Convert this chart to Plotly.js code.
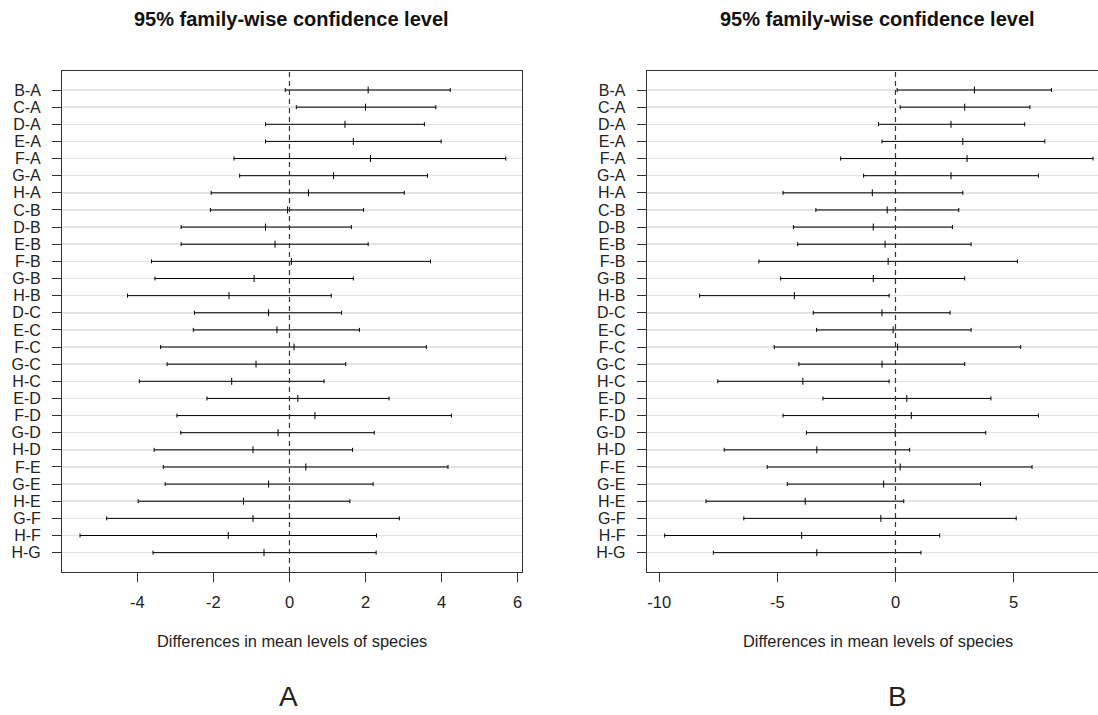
<!DOCTYPE html>
<html>
<head>
<meta charset="utf-8">
<script src="https://cdn.plot.ly/plotly-3.0.1.min.js"></script>
<style>
html, body { margin: 0; padding: 0; overflow: hidden; background: #fff; }
#chart { width: 1130px; height: 715px; }
</style>
</head>
<body>
<div id="chart"></div>
<script>
// ---- Data ----
const comparisons = ["B-A","C-A","D-A","E-A","F-A","G-A","H-A","C-B","D-B","E-B","F-B","G-B","H-B",
  "D-C","E-C","F-C","G-C","H-C","E-D","F-D","G-D","H-D","F-E","G-E","H-E","G-F","H-F","H-G"];

// Panel A
const diffA = [2.07, 2.00, 1.46, 1.68, 2.13, 1.16, 0.50, -0.05, -0.63, -0.38, 0.05, -0.93, -1.59,
  -0.55, -0.33, 0.12, -0.88, -1.52, 0.22, 0.67, -0.30, -0.96, 0.43, -0.55, -1.21, -0.96, -1.61, -0.67];
const lwrA = [-0.11, 0.18, -0.63, -0.63, -1.46, -1.31, -2.06, -2.08, -2.85, -2.85, -3.63, -3.54, -4.26,
  -2.50, -2.53, -3.39, -3.22, -3.95, -2.17, -2.96, -2.86, -3.56, -3.32, -3.27, -3.98, -4.81, -5.51, -3.59];
const uprA = [4.23, 3.85, 3.55, 3.99, 5.69, 3.63, 3.02, 1.95, 1.63, 2.07, 3.71, 1.68, 1.10,
  1.37, 1.84, 3.60, 1.48, 0.91, 2.62, 4.26, 2.23, 1.66, 4.17, 2.20, 1.59, 2.89, 2.29, 2.28];

// Panel B
const diffB = [3.34, 2.93, 2.35, 2.85, 3.03, 2.35, -0.98, -0.35, -0.94, -0.44, -0.31, -0.94, -4.28,
  -0.57, -0.10, 0.09, -0.57, -3.92, 0.48, 0.67, -0.01, -3.33, 0.20, -0.50, -3.82, -0.62, -3.97, -3.33];
const lwrB = [0.07, 0.20, -0.72, -0.57, -2.32, -1.35, -4.76, -3.37, -4.32, -4.14, -5.78, -4.86, -8.29,
  -3.48, -3.34, -5.13, -4.09, -7.52, -3.07, -4.76, -3.77, -7.25, -5.43, -4.58, -8.02, -6.42, -9.77, -7.71];
const uprB = [6.60, 5.69, 5.47, 6.32, 8.36, 6.05, 2.85, 2.68, 2.41, 3.20, 5.16, 2.93, -0.27,
  2.31, 3.20, 5.30, 2.93, -0.27, 4.04, 6.05, 3.82, 0.60, 5.78, 3.60, 0.35, 5.11, 1.87, 1.08];

// Tick labels
const ticksA = [-4, -2, 0, 2, 4, 6];
const tickLabelsA = ["-4", "-2", "0", "2", "4", "6"];
const ticksB = [-10, -5, 0, 5];
const tickLabelsB = ["-10", "-5", "0", "5"];

const mainTitle = "95% family-wise confidence level";
const xTitle = "Differences in mean levels of species";
const panelLabels = ["A", "B"];

// ---- Build ----
const FONT = "Liberation Sans, Arial, sans-serif";
const W = 1130, H = 715;
const yDom = [(H - 572) / H, (H - 71) / H];
const xDomA = [62 / W, 522 / W];
const xDomB = [646.7 / W, 1110 / W];

function trace(diff, lwr, upr, xa, ya) {
  return {
    type: "scatter", mode: "markers",
    x: diff, y: comparisons, xaxis: xa, yaxis: ya,
    marker: { symbol: "line-ns-open", size: 5, color: "#000", line: { color: "#000", width: 1 } },
    error_x: {
      type: "data", symmetric: false,
      array: upr.map((u, i) => u - diff[i]),
      arrayminus: lwr.map((l, i) => diff[i] - l),
      color: "#000", thickness: 1, width: 2
    },
    hoverinfo: "x+y", showlegend: false
  };
}

function xaxis(dom, range, tv, tt, anchor) {
  return {
    domain: dom, range: range, anchor: anchor,
    tickmode: "array", tickvals: tv, ticktext: tt,
    ticks: "outside", ticklen: 9, tickwidth: 1, tickcolor: "#333",
    tickfont: { family: FONT, size: 16.5, color: "#222" },
    ticklabelstandoff: 6,
    showgrid: false, zeroline: false,
    showline: true, mirror: true, linecolor: "#333", linewidth: 1
  };
}
function yaxis(anchor) {
  return {
    domain: yDom, anchor: anchor, type: "category",
    range: [28.13, -1.11],
    tickmode: "array", tickvals: comparisons, ticktext: comparisons,
    ticks: "outside", ticklen: 9, tickwidth: 1, tickcolor: "#333",
    tickfont: { family: FONT, size: 16, color: "#222" },
    ticklabelstandoff: 8,
    showgrid: true, gridcolor: "#e4e4e4", gridwidth: 1.5,
    zeroline: false,
    showline: true, mirror: true, linecolor: "#333", linewidth: 1
  };
}

const data = [
  trace(diffA, lwrA, uprA, "x", "y"),
  trace(diffB, lwrB, uprB, "x2", "y2")
];

function zeroLine(xref) {
  return {
    type: "line", xref: xref, yref: "paper", x0: 0, x1: 0, y0: yDom[0], y1: yDom[1],
    line: { color: "#333", width: 1.2, dash: "5px,4px" }, layer: "above"
  };
}

function ann(text, xpx, ypx, size, bold, yanchor) {
  return {
    text: bold ? "<b>" + text + "</b>" : text,
    xref: "paper", yref: "paper", x: xpx / W, y: 1 - ypx / H,
    xanchor: "center", yanchor: yanchor || "middle", showarrow: false,
    font: { family: FONT, size: size, color: bold ? "#111" : "#222" }
  };
}

const layout = {
  width: W, height: H,
  margin: { l: 0, r: 0, t: 0, b: 0 },
  paper_bgcolor: "#fff", plot_bgcolor: "#fff",
  font: { family: FONT },
  xaxis: xaxis(xDomA, [-5.984, 6.117], ticksA, tickLabelsA, "y"),
  yaxis: yaxis("x"),
  xaxis2: xaxis(xDomB, [-10.53, 9.08], ticksB, tickLabelsB, "y2"),
  yaxis2: yaxis("x2"),
  shapes: [zeroLine("x"), zeroLine("x2")],
  annotations: [
    ann(mainTitle, 291, 19.5, 20, true),
    ann(mainTitle, 877.5, 19.5, 20, true),
    ann(xTitle, 292, 641, 16.4, false),
    ann(xTitle, 877.5, 641, 16.4, false),
    ann(panelLabels[0], 288, 714, 28, false, "bottom"),
    ann(panelLabels[1], 897, 714, 28, false, "bottom")
  ]
};

Plotly.newPlot("chart", data, layout, { displayModeBar: false, staticPlot: true });
</script>
</body>
</html>
